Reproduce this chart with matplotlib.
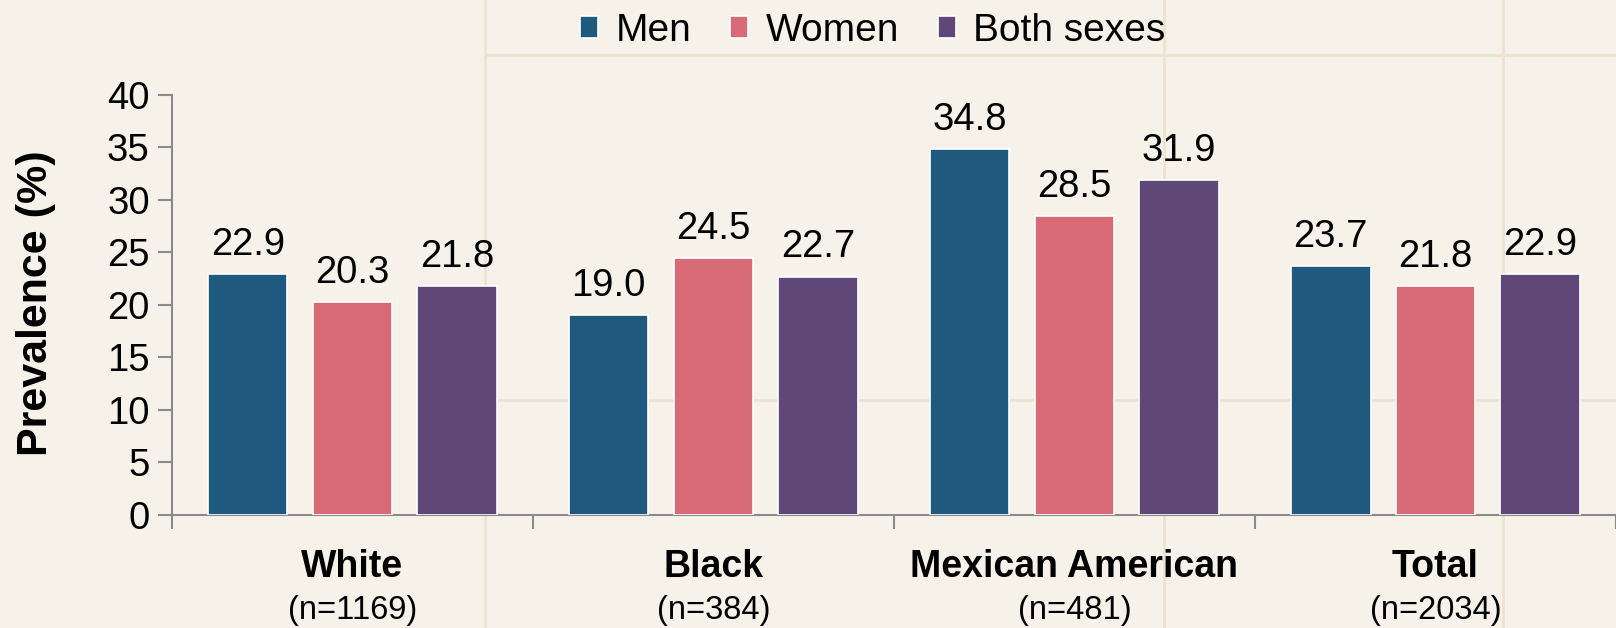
import matplotlib.pyplot as plt
import numpy as np
from matplotlib.lines import Line2D

plt.rcParams['font.family'] = ['Liberation Sans', 'DejaVu Sans']

groups = ['White', 'Black', 'Mexican American', 'Total']
counts = ['(n=1169)', '(n=384)', '(n=481)', '(n=2034)']
series = ['Men', 'Women', 'Both sexes']
men = [22.9, 19.0, 34.8, 23.7]
women = [20.3, 24.5, 28.5, 21.8]
both = [21.8, 22.7, 31.9, 22.9]
colors = ['#1f5a7e', '#d96b77', '#5f4878']

fig = plt.figure(figsize=(16.16, 6.28), dpi=100)
fig.patch.set_facecolor('#f6f2ea')

# faint background grid lines
for yy in [0.912, 0.363]:
    fig.add_artist(Line2D([0.3, 1.0], [yy, yy], color='#ece3d3', lw=2, zorder=0))
for xx in [0.3, 0.72, 0.93]:
    fig.add_artist(Line2D([xx, xx], [0.0, 1.0], color='#ece3d3', lw=2, zorder=0))

ax = fig.add_axes([0.1064, 0.18, 0.8936, 0.669])
ax.set_facecolor('none')

x = np.arange(len(groups))
w = 0.22
step = 0.29
handles = []
for k, (vals, c, name) in enumerate(zip([men, women, both], colors, series)):
    pos = x + (k - 1) * step
    bars = ax.bar(pos, vals, width=w, color=c, edgecolor='white', linewidth=1.2,
                  label=name, zorder=3)
    handles.append(bars)
    for b, v in zip(bars, vals):
        ax.annotate(f'{v:.1f}', (b.get_x() + b.get_width() / 2, v),
                    xytext=(0, 8), textcoords='offset points',
                    ha='center', va='bottom', fontsize=27.5)

ax.set_xlim(-0.5, len(groups) - 0.5)
ax.set_ylim(0, 40)
ax.set_yticks(range(0, 41, 5))
ax.tick_params(axis='y', labelsize=27.5, length=10, width=1.5, color='#8a8a8a', pad=6)

ax.set_xticks(np.arange(-0.5, len(groups), 1))
ax.set_xticklabels([])
ax.tick_params(axis='x', length=10, width=1.5, color='#8a8a8a')

for i, (g, n) in enumerate(zip(groups, counts)):
    ax.text(i, -5.0, g, ha='center', va='center', fontsize=27, fontweight='bold')
    ax.text(i, -9.1, n, ha='center', va='center', fontsize=23.5)

for s in ['top', 'right']:
    ax.spines[s].set_visible(False)
for s in ['left', 'bottom']:
    ax.spines[s].set_color('#8a8a8a')
    ax.spines[s].set_linewidth(1.5)

ax.set_ylabel('Prevalence (%)', fontsize=31, fontweight='bold')
ax.yaxis.set_label_coords(-0.080, 0.505)

fig.legend(handles, series, loc='center', bbox_to_anchor=(0.54, 0.951), ncol=3,
           frameon=False, fontsize=28, handlelength=0.46, handleheight=0.46,
           handletextpad=0.45, columnspacing=1.0, borderaxespad=0, borderpad=0)

fig.savefig('out.png', dpi=100, facecolor=fig.get_facecolor())
